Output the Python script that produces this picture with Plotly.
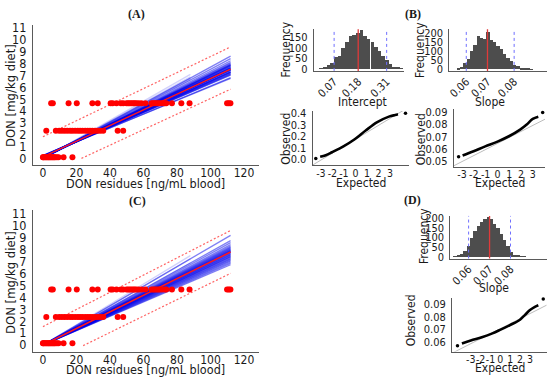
import plotly.graph_objects as go

W, H = 550, 384
FONT = "Liberation Sans Narrow, DejaVu Sans Condensed, Liberation Sans, sans-serif"
SERIF = "Liberation Serif, DejaVu Serif, serif"
TXT = "#1a1a1a"
AXC = "#5a5a5a"

# ---------------- data ----------------
# Observations: DON residues in blood (ng/mL) at each dietary DON level (mg/kg diet)
diet_levels = [0.15, 2.35, 4.65]
residues_low = [0.0, 0.2, 0.8, 1.4, 2.0, 2.6, 3.2, 3.7, 4.3, 4.9, 5.5, 6.1, 6.7, 7.3,
                8.3, 9.3, 12.3, 17.6]
residues_mid = [2.0, 7.7, 9.7, 11.3, 12.9, 14.5, 16.2, 17.6, 19.2, 20.8, 22.2, 23.6,
                25.2, 26.7, 28.1, 29.5, 31.1, 32.7, 34.3, 36.0, 44.6, 47.9]
residues_high = [4.9, 5.9, 15.3, 20.2, 29.5, 32.7, 40.4, 41.6, 43.9, 46.5, 47.9, 49.9,
                 50.9, 51.9, 52.9, 53.9, 54.8, 55.8, 57.2, 58.8, 61.2, 64.8, 65.8, 66.7,
                 67.7, 68.7, 69.7, 71.1, 72.7, 73.6, 77.0, 82.6, 87.5, 109.9, 110.9, 111.9]

# Panel A: bootstrap regression lines (intercept, slope, last x)
boot_a_intercept = [0.30, 0.25, 0.28, 0.22, 0.20, 0.24, 0.18, 0.15, 0.21, 0.17, 0.19, 0.13,
                    0.16, 0.20, 0.12, 0.14, 0.18, 0.10, 0.11, 0.08, 0.09, 0.06, 0.05, 0.04,
                    0.03, 0.22, 0.26, 0.17, 0.14, 0.23, 0.05, 0.08, 0.03, 0.10]
boot_a_slope = [0.0575, 0.0585, 0.0600, 0.0610, 0.0620, 0.0625, 0.0630, 0.0638, 0.0642,
                0.0648, 0.0652, 0.0656, 0.0660, 0.0664, 0.0668, 0.0672, 0.0678, 0.0684,
                0.0690, 0.0698, 0.0705, 0.0715, 0.0728, 0.0745, 0.0765, 0.0645, 0.0612,
                0.0635, 0.0690, 0.0658, 0.0775, 0.0760, 0.0800, 0.0745]
boot_a_xmax = [112] * 30 + [88, 88, 88, 88]
fit_a = [0.18, 0.0654]          # intercept, slope of mean line
fit_a_x = [0, 112]
pi_a_upper_x, pi_a_upper_y = [0, 112], [1.86, 9.36]
pi_a_lower_x, pi_a_lower_y = [23, 112], [0.05, 5.83]

# Panel C: bootstrap slopes (regression through the origin)
boot_c_slope = [0.0600, 0.0610, 0.0620, 0.0628, 0.0635, 0.0642, 0.0648, 0.0655, 0.0660,
                0.0665, 0.0670, 0.0675, 0.0680, 0.0685, 0.0690, 0.0694, 0.0698, 0.0702,
                0.0706, 0.0710, 0.0715, 0.0720, 0.0726, 0.0732, 0.0740, 0.0750, 0.0765,
                0.0780, 0.0820, 0.0780, 0.0820, 0.0850]
boot_c_xmax = [112] * 29 + [88, 88, 88]
boot_c_xmin = 4
fit_c_slope = 0.0695
pi_c_upper_x, pi_c_upper_y = [0, 112], [1.54, 9.59]
pi_c_lower_x, pi_c_lower_y = [24, 112], [-0.05, 6.0]

# Panel B: histogram of bootstrap intercepts
hist_int_centers = [0.010, 0.027, 0.044, 0.060, 0.077, 0.094, 0.110, 0.127, 0.144, 0.160,
                    0.177, 0.194, 0.210, 0.227, 0.244, 0.260, 0.277, 0.294, 0.310, 0.327,
                    0.344, 0.360, 0.377]
hist_int_counts = [3, 8, 20, 28, 55, 60, 100, 125, 155, 160, 170, 183, 155, 140, 125, 105,
                   85, 62, 40, 22, 10, 4, 2]
hist_int_width = 0.0167
hist_int_q = [0.07, 0.18, 0.31]      # 2.5 %, mean, 97.5 %

# Panel B: histogram of bootstrap slopes
hist_slope_centers = [0.05517, 0.05645, 0.05773, 0.05901, 0.06029, 0.06157, 0.06285,
                      0.06413, 0.06541, 0.06669, 0.06797, 0.06925, 0.07053, 0.07181,
                      0.07309, 0.07437, 0.07565, 0.07693, 0.07821, 0.07949, 0.08077,
                      0.08205, 0.08333]
hist_slope_counts = [5, 12, 35, 60, 100, 135, 183, 172, 168, 205, 160, 150, 128, 110, 84,
                     62, 45, 27, 18, 10, 6, 3, 2]
hist_slope_width = 0.00128
hist_slope_q = [0.0581, 0.0663, 0.0766]

# Panel D: histogram of bootstrap slopes (origin model)
hist_d_centers = [0.05806, 0.05917, 0.06028, 0.06139, 0.06250, 0.06361, 0.06472, 0.06583,
                  0.06694, 0.06805, 0.06916, 0.07027, 0.07138, 0.07249, 0.07360, 0.07471,
                  0.07582, 0.07693, 0.07804, 0.07915, 0.08026, 0.08137]
hist_d_counts = [5, 8, 15, 30, 55, 100, 135, 160, 180, 195, 205, 195, 170, 150, 120, 90,
                 55, 25, 12, 6, 3, 2]
hist_d_width = 0.00111
hist_d_q = [0.0625, 0.0695, 0.0765]

# Q-Q plots: (expected, observed) along the curve, extreme points, reference line
qq_int_exp = [-3.06, -2.57, -2.03, -1.04, -0.06, 0.92, 1.90, 2.91, 3.45, 3.70]
qq_int_obs = [0.022, 0.036, 0.062, 0.113, 0.175, 0.254, 0.325, 0.373, 0.387, 0.393]
qq_int_ext_exp, qq_int_ext_obs = [-3.44, 4.35], [0.008, 0.403]
qq_int_ref = [0.175, 0.0606]

qq_slope_exp = [-2.95, -2.02, -1.03, 0.01, 1.02, 1.93, 2.49, 3.00, 3.47]
qq_slope_obs = [0.0545, 0.0580, 0.0620, 0.0660, 0.0706, 0.0759, 0.0801, 0.0847, 0.0865]
qq_slope_ext_exp, qq_slope_ext_obs = [-3.29, 3.84], [0.0534, 0.0900]
qq_slope_ref = [0.0644, 0.00497]

qq_d_exp = [-3.90, -3.00, -1.88, -0.81, -0.03, 0.98, 1.99, 2.50, 3.00, 3.50, 3.85]
qq_d_obs = [0.0586, 0.0611, 0.0637, 0.0668, 0.0696, 0.0735, 0.0778, 0.0817, 0.0855,
            0.0881, 0.0894]
qq_d_ext_exp, qq_d_ext_obs = [-4.35, 4.35], [0.0568, 0.0945]
qq_d_ref = [0.0706, 0.00402]

a_xticks = [0, 20, 40, 60, 80, 100, 120]
a_yticks = list(range(0, 12))
qq_xticks = [-3, -2, -1, 0, 1, 2, 3]

# ---------------- helpers ----------------
fig = go.Figure()


def xd(p0, p1):
    return [p0 / W, p1 / W]


def yd(top, bot):
    return [1 - bot / H, 1 - top / H]


def axis(n, xdom, ydom, xr, yr, xt, yt, xtxt=None, ytxt=None, fs=11, xfs=None, xangle=0,
         xoff=0):
    sx = "" if n == 1 else str(n)
    common = dict(showline=True, linecolor=AXC, linewidth=1, showgrid=False,
                  zeroline=False, ticks="", ticklen=0)
    xa = dict(common, domain=xdom, range=xr, anchor="y" + sx, tickvals=xt,
              tickangle=xangle, ticklabelstandoff=xoff,
              tickfont=dict(family=FONT, size=xfs or fs, color=TXT))
    ya = dict(common, domain=ydom, range=yr, anchor="x" + sx, tickvals=yt,
              ticklabelstandoff=3, tickfont=dict(family=FONT, size=fs, color=TXT))
    if xtxt is not None:
        xa["ticktext"] = xtxt
    if ytxt is not None:
        ya["ticktext"] = ytxt
    fig.update_layout({"xaxis" + sx: xa, "yaxis" + sx: ya})
    return "x" + sx, "y" + sx


def line(xa, ya, x, y, color, width=1, dash=None, shape="linear"):
    fig.add_trace(go.Scatter(x=x, y=y, mode="lines", xaxis=xa, yaxis=ya,
                             line=dict(color=color, width=width, dash=dash, shape=shape),
                             hoverinfo="skip", showlegend=False))


def scatter_panel(n, top, bot, yr, intercepts, slopes, xmins, xmaxs, fit_x, fit_y,
                  up_x, up_y, lo_x, lo_y):
    xa, ya = axis(n, xd(31, 258), yd(top, bot), [-6, 129], yr, a_xticks, a_yticks,
                  fs=12.5, xfs=12, xoff=-3)
    for b, m, x0, x1 in zip(intercepts, slopes, xmins, xmaxs):
        alpha = 0.5 if x1 > 100 else 0.18
        line(xa, ya, [x0, x1], [b + m * x0, b + m * x1], f"rgba(0,0,235,{alpha})", 1.3)
    line(xa, ya, up_x, up_y, "rgba(255,70,70,0.85)", 1.2, "2px,2px")
    line(xa, ya, lo_x, lo_y, "rgba(255,70,70,0.85)", 1.2, "2px,2px")
    line(xa, ya, fit_x, fit_y, "#ff1a1a", 1.5)
    for lvl, res in zip(diet_levels, [residues_low, residues_mid, residues_high]):
        fig.add_trace(go.Scatter(x=res, y=[lvl] * len(res), mode="markers", xaxis=xa,
                                 yaxis=ya, marker=dict(color="#ff0000", size=6),
                                 hoverinfo="skip", showlegend=False, cliponaxis=False))


def hist_panel(n, xdom, ydom, xr, yr, yt, centers, counts, width, q):
    xa, ya = axis(n, xdom, ydom, xr, yr, q, yt, xtxt=[f"{v:.2f}" for v in q],
                  fs=11, xangle=-45, xoff=-1)
    fig.add_trace(go.Bar(x=centers, y=counts, width=width, xaxis=xa, yaxis=ya,
                         marker=dict(color="#4d4d4d", line=dict(width=0)),
                         hoverinfo="skip", showlegend=False))
    for i, v in enumerate(q):
        mid = i == 1
        fig.add_shape(type="line", xref=xa, yref=ya + " domain", x0=v, x1=v, y0=0, y1=1,
                      line=dict(color="#e03a3a" if mid else "#6f6fff",
                                width=1.3 if mid else 1, dash=None if mid else "dot"))


def qq_panel(n, xdom, ydom, xr, yr, yt, yfmt, ex, ob, ext_x, ext_y, ref):
    xa, ya = axis(n, xdom, ydom, xr, yr, qq_xticks, yt,
                  xtxt=[str(v) for v in qq_xticks], ytxt=[yfmt.format(v) for v in yt],
                  fs=11, xfs=10.5, xoff=-2)
    line(xa, ya, [xr[0], xr[1]], [ref[0] + ref[1] * xr[0], ref[0] + ref[1] * xr[1]],
         "#bdbdbd", 1)
    line(xa, ya, ex, ob, "#000000", 2.6, shape="spline")
    fig.add_trace(go.Scatter(x=ext_x, y=ext_y, mode="markers", xaxis=xa, yaxis=ya,
                             marker=dict(color="#000000", size=3.5), cliponaxis=False,
                             hoverinfo="skip", showlegend=False))


# ---------------- panels ----------------
nA = len(boot_a_slope)
scatter_panel(1, 20, 164, [-0.49, 11.16], boot_a_intercept, boot_a_slope, [0] * nA,
              boot_a_xmax, fit_a_x, [fit_a[0] + fit_a[1] * x for x in fit_a_x],
              pi_a_upper_x, pi_a_upper_y, pi_a_lower_x, pi_a_lower_y)
nC = len(boot_c_slope)
scatter_panel(2, 211, 357, [-0.57, 11.27], [0] * nC, boot_c_slope, [boot_c_xmin] * nC,
              boot_c_xmax, [boot_c_xmin, 112], [fit_c_slope * boot_c_xmin, fit_c_slope * 112],
              pi_c_upper_x, pi_c_upper_y, pi_c_lower_x, pi_c_lower_y)

hist_panel(3, xd(313, 403), yd(24, 67), [-0.0225, 0.387], [-9, 188], [0, 50, 100, 150],
           hist_int_centers, hist_int_counts, hist_int_width, hist_int_q)
hist_panel(4, xd(449, 547), yd(24, 67), [0.05157, 0.0893], [-7, 223], [0, 50, 100, 150, 200],
           hist_slope_centers, hist_slope_counts, hist_slope_width, hist_slope_q)
hist_panel(7, xd(450, 546.7), yd(216.7, 260.7), [0.0564, 0.0886], [-8.5, 211.5],
           [0, 50, 100, 150, 200], hist_d_centers, hist_d_counts, hist_d_width, hist_d_q)

qq_panel(5, xd(311.7, 408.3), yd(108.3, 164.3), [-3.72, 4.64], [-0.051, 0.423],
         [0.0, 0.1, 0.2, 0.3, 0.4], "{:.1f}", qq_int_exp, qq_int_obs,
         qq_int_ext_exp, qq_int_ext_obs, qq_int_ref)
qq_panel(6, xd(453.3, 545), yd(106.7, 165.7), [-3.71, 4.04], [0.0454, 0.0926],
         [0.05, 0.06, 0.07, 0.08, 0.09], "{:.2f}", qq_slope_exp, qq_slope_obs,
         qq_slope_ext_exp, qq_slope_ext_obs, qq_slope_ref)
qq_panel(8, xd(451.7, 546.7), yd(301.7, 356.7), [-4.9, 4.7], [0.0522, 0.0950],
         [0.06, 0.07, 0.08, 0.09], "{:.2f}", qq_d_exp, qq_d_obs,
         qq_d_ext_exp, qq_d_ext_obs, qq_d_ref)

# ---------------- text ----------------
def note(text, px, py, size=12, rot=0, family=FONT, bold=False):
    fig.add_annotation(text=f"<b>{text}</b>" if bold else text, x=px / W, y=1 - py / H,
                       xref="paper", yref="paper", showarrow=False, textangle=rot,
                       xanchor="center", yanchor="middle", borderpad=0,
                       font=dict(family=family, size=size, color=TXT))


note("(A)", 135, 8, 12, family=SERIF, bold=True)
note("(B)", 412, 8, 12, family=SERIF, bold=True)
note("(C)", 136, 201, 12, family=SERIF, bold=True)
note("(D)", 412, 200, 12, family=SERIF, bold=True)

for py_mid, py_x in [(92, 183.5), (285, 375)]:
    note("DON [mg/kg diet]", 8, py_mid, 13, rot=-90)
    note("DON residues [ng/mL blood]", 144, py_x, 12.5)

note("Frequency", 285, 45, 12, rot=-90)
note("Frequency", 419, 45, 12, rot=-90)
note("Intercept", 362, 99, 12)
note("Slope", 490, 99, 12)
note("Observed", 285, 137, 12, rot=-90)
note("Observed", 420, 137, 12, rot=-90)
note("Expected", 360, 183, 12)
note("Expected", 500, 183, 12)
note("Frequency", 423, 237, 12, rot=-90)
note("Slope", 494, 291, 12)
note("Observed", 410, 325, 12, rot=-90)
note("Expected", 500, 374, 12)

fig.update_layout(width=W, height=H, margin=dict(l=0, r=0, t=0, b=0, pad=0),
                  paper_bgcolor="white", plot_bgcolor="white", bargap=0,
                  showlegend=False)

fig.write_html("out.html", config={"displayModeBar": False},
               post_script="document.body.style.margin='0';document.body.style.overflow='hidden';")
